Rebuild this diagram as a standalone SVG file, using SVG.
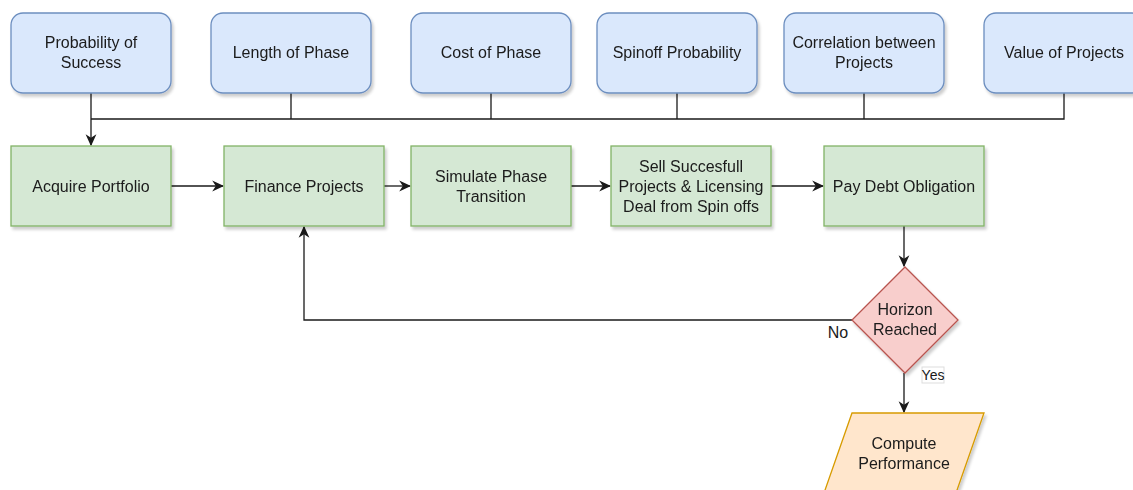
<svg xmlns="http://www.w3.org/2000/svg" width="1133" height="490" viewBox="0 0 1133 490">
<style>
text{font-family:"Liberation Sans",Arial,Helvetica,sans-serif;font-size:16px;fill:#1a1a1a;text-anchor:middle}
.in{fill:#dae8fc;stroke:#6c8ebf;stroke-width:1.3}
.st{fill:#d5e8d4;stroke:#82b366;stroke-width:1.3}
.dec{fill:#f8cecc;stroke:#b85450;stroke-width:1.3}
.out{fill:#ffe6cc;stroke:#d79b00;stroke-width:1.3}
.c{fill:none;stroke:#1a1a1a;stroke-width:1.3}
.lbl{font-size:14px}
</style>
<defs>
<filter id="sh" x="-10%" y="-10%" width="130%" height="130%">
<feGaussianBlur in="SourceAlpha" stdDeviation="1.5"/>
<feOffset dx="2" dy="3" result="o"/>
<feComponentTransfer><feFuncA type="linear" slope="0.2"/></feComponentTransfer>
<feMerge><feMergeNode/><feMergeNode in="SourceGraphic"/></feMerge>
</filter>
<marker id="ah" viewBox="0 0 10 10" refX="9" refY="5" markerWidth="12" markerHeight="12" markerUnits="userSpaceOnUse" orient="auto">
<path d="M0,0.5 L10,5 L0,9.5 L3,5 Z" fill="#1a1a1a"/>
</marker>
</defs>
<rect width="1133" height="490" fill="#ffffff"/>

<g id="connectors">
<path class="c" d="M91,93 V145" marker-end="url(#ah)"/>
<path class="c" d="M91,119 H1064 V93"/>
<path class="c" d="M291,93 V119"/>
<path class="c" d="M491,93 V119"/>
<path class="c" d="M677,93 V119"/>
<path class="c" d="M864,93 V119"/>
<path class="c" d="M171,186 H223" marker-end="url(#ah)"/>
<path class="c" d="M384,186 H410" marker-end="url(#ah)"/>
<path class="c" d="M571,186 H610" marker-end="url(#ah)"/>
<path class="c" d="M771,186 H823" marker-end="url(#ah)"/>
<path class="c" d="M904,226 V266" marker-end="url(#ah)"/>
<path class="c" d="M852,320 H304 V227" marker-end="url(#ah)"/>
<path class="c" d="M904,373 V412" marker-end="url(#ah)"/>
<text x="838" y="338">No</text>
<rect x="922" y="367" width="22" height="16" fill="#ffffff" stroke="#dddddd" stroke-width="1"/>
<text class="lbl" x="933" y="380">Yes</text>
</g>

<g id="prob-success" filter="url(#sh)"><rect class="in" x="11" y="13" width="160" height="80" rx="12"/><text x="91" y="48">Probability of</text><text x="91" y="68">Success</text></g>
<g id="length-phase" filter="url(#sh)"><rect class="in" x="211" y="13" width="160" height="80" rx="12"/><text x="291" y="58">Length of Phase</text></g>
<g id="cost-phase" filter="url(#sh)"><rect class="in" x="411" y="13" width="160" height="80" rx="12"/><text x="491" y="58">Cost of Phase</text></g>
<g id="spinoff-prob" filter="url(#sh)"><rect class="in" x="597" y="13" width="160" height="80" rx="12"/><text x="677" y="58">Spinoff Probability</text></g>
<g id="correlation" filter="url(#sh)"><rect class="in" x="784" y="13" width="160" height="80" rx="12"/><text x="864" y="48">Correlation between</text><text x="864" y="68">Projects</text></g>
<g id="value-projects" filter="url(#sh)"><rect class="in" x="984" y="13" width="160" height="80" rx="12"/><text x="1064" y="58">Value of Projects</text></g>

<g id="acquire" filter="url(#sh)"><rect class="st" x="11" y="146" width="160" height="80"/><text x="91" y="192">Acquire Portfolio</text></g>
<g id="finance" filter="url(#sh)"><rect class="st" x="224" y="146" width="160" height="80"/><text x="304" y="192">Finance Projects</text></g>
<g id="simulate" filter="url(#sh)"><rect class="st" x="411" y="146" width="160" height="80"/><text x="491" y="182">Simulate Phase</text><text x="491" y="202">Transition</text></g>
<g id="sell" filter="url(#sh)"><rect class="st" x="611" y="146" width="160" height="80"/><text x="691" y="172">Sell Succesfull</text><text x="691" y="192">Projects &amp; Licensing</text><text x="691" y="212">Deal from Spin offs</text></g>
<g id="pay-debt" filter="url(#sh)"><rect class="st" x="824" y="146" width="160" height="80"/><text x="904" y="192">Pay Debt Obligation</text></g>

<g id="horizon" filter="url(#sh)"><path class="dec" d="M905,267 L958,320 L905,373 L852,320 Z"/><text x="905" y="315">Horizon</text><text x="905" y="335">Reached</text></g>
<g id="compute" filter="url(#sh)"><path class="out" d="M852,413 L984,413 L956,493 L824,493 Z"/><text x="904" y="449">Compute</text><text x="904" y="469">Performance</text></g>
</svg>
